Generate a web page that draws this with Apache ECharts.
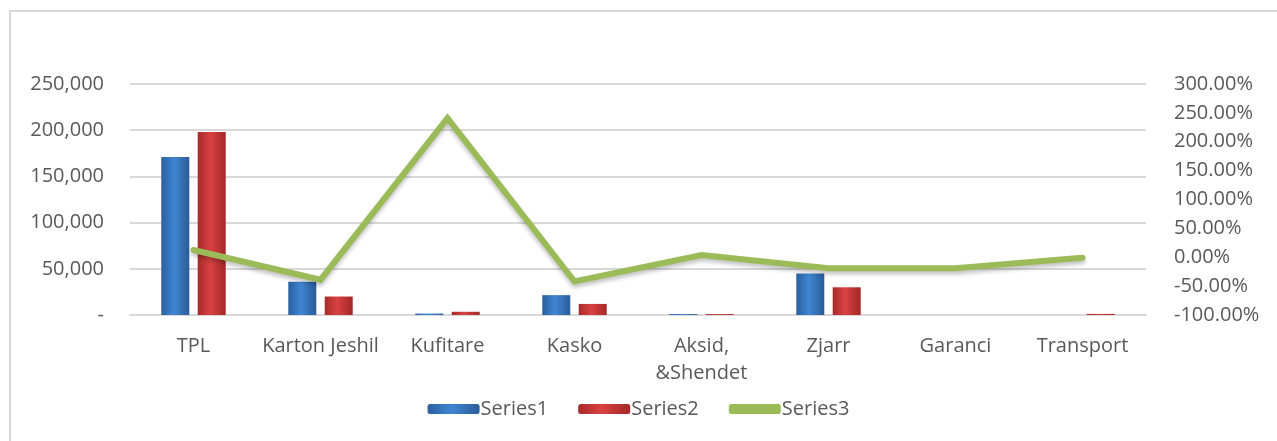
<!DOCTYPE html>
<html>
<head>
<meta charset="utf-8">
<script src="https://cdn.jsdelivr.net/npm/echarts@6/dist/echarts.min.js"></script>
<style>
html,body{margin:0;padding:0;background:#fff;}
#frame{position:absolute;left:9px;top:10px;width:2000px;height:1000px;border-left:2px solid #d9d9d9;border-top:2px solid #d9d9d9;}
#main{position:absolute;left:0;top:0;width:1277px;height:441px;}
</style>
</head>
<body>
<div id="frame"></div>
<div id="main"></div>
<script>
const categories = ['TPL', 'Karton Jeshil', 'Kufitare', 'Kasko', 'Aksid,\n&Shendet', 'Zjarr', 'Garanci', 'Transport'];
const series1 = [171000, 36000, 1500, 21500, 1000, 45000, 0, 0];
const series2 = [198000, 20000, 3500, 12000, 1000, 30000, 0, 1200];
const series3 = [12.5, -39, 241, -42, 4, -19, -19, -1];
const leftTicks = { min: 0, max: 250000, interval: 50000 };
const rightTicks = { min: -100, max: 300, interval: 50 };

const font = '"Open Sans", "Liberation Sans", sans-serif';
const txt = '#595959';
const chart = echarts.init(document.getElementById('main'), null, { renderer: 'canvas' });

function grad(c1, c2, c3) {
  return new echarts.graphic.LinearGradient(0, 0, 1, 0, [
    { offset: 0, color: c1 }, { offset: 0.45, color: c2 }, { offset: 1, color: c3 }
  ]);
}

chart.setOption({
  backgroundColor: 'transparent',
  animation: false,
  grid: { left: 130, right: 131, top: 84, bottom: 126, containLabel: false },
  legend: {
    bottom: 17,
    left: 'center',
    itemWidth: 52,
    itemHeight: 10,
    itemGap: 30,
    textStyle: { fontFamily: font, fontSize: 20, color: txt, padding: [0, 0, 0, -4] },
    data: [
      { name: 'Series1' },
      { name: 'Series2' },
      { name: 'Series3', icon: 'roundRect', itemStyle: { color: '#9bbb59' } }
    ]
  },
  xAxis: {
    type: 'category',
    data: categories,
    axisLine: { show: true, lineStyle: { color: '#d9d9d9', width: 2 } },
    axisTick: { show: false },
    axisLabel: { fontFamily: font, fontSize: 20, color: txt, margin: 18, lineHeight: 27, interval: 0 }
  },
  yAxis: [
    {
      type: 'value', min: leftTicks.min, max: leftTicks.max, interval: leftTicks.interval,
      axisLine: { show: false }, axisTick: { show: false },
      splitLine: { show: true, lineStyle: { color: '#d9d9d9', width: 2 } },
      axisLabel: {
        fontFamily: font, fontSize: 20, color: txt, margin: 26,
        formatter: v => v === 0 ? '-' : v.toLocaleString('en-US')
      }
    },
    {
      type: 'value', min: rightTicks.min, max: rightTicks.max, interval: rightTicks.interval,
      axisLine: { show: false }, axisTick: { show: false },
      splitLine: { show: false },
      axisLabel: {
        fontFamily: font, fontSize: 20, color: txt, margin: 28,
        formatter: v => v.toFixed(2) + '%'
      }
    }
  ],
  series: [
    {
      name: 'Series1', type: 'bar', data: series1, yAxisIndex: 0,
      barWidth: 28, barGap: '30%',
      itemStyle: { color: grad('#2a5f9f', '#3f86d1', '#2b5c98') }
    },
    {
      name: 'Series2', type: 'bar', data: series2, yAxisIndex: 0,
      barWidth: 28,
      itemStyle: { color: grad('#a82a2a', '#d94242', '#a32727') }
    },
    {
      name: 'Series3', type: 'line', data: series3, yAxisIndex: 1,
      symbol: 'none',
      itemStyle: { color: '#9bbb59' },
      lineStyle: { color: '#9bbb59', width: 6, cap: 'round', join: 'miter',
        shadowColor: 'rgba(0,0,0,0.25)', shadowBlur: 4, shadowOffsetY: 3 }
    }
  ]
});
</script>
</body>
</html>
